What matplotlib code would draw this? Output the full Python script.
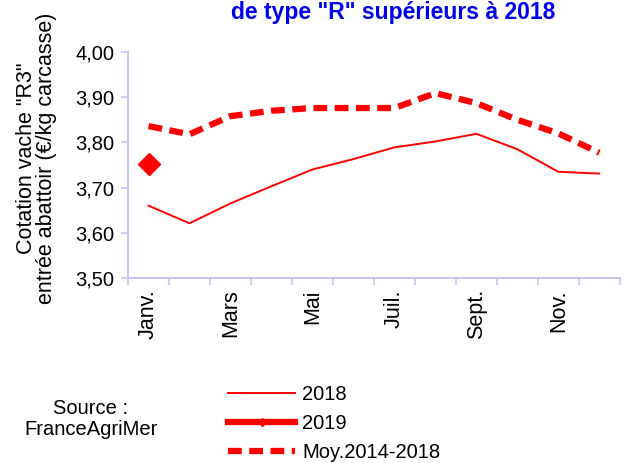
import numpy as np
import matplotlib
matplotlib.use("Agg")
from matplotlib import pyplot as plt

plt.rcParams['font.family'] = ['Liberation Sans', 'DejaVu Sans']

months = ['Janv.', 'Févr.', 'Mars', 'Avr.', 'Mai', 'Juin',
          'Juil.', 'Août', 'Sept.', 'Oct.', 'Nov.', 'Déc.']
val_2018 = [3.660, 3.621, 3.665, 3.703, 3.740, 3.763,
            3.789, 3.802, 3.819, 3.785, 3.735, 3.731]
val_2019 = [3.752]
val_moy = [3.836, 3.818, 3.858, 3.870, 3.876, 3.876,
           3.876, 3.909, 3.887, 3.850, 3.820, 3.777]

axis_col = '#c4c4f4'
fs = 14.5

fig = plt.figure(figsize=(6.26, 4.63), dpi=100)
ax = fig.add_axes([0.2045, 0.3996, 0.7855, 0.4881])

x = np.arange(len(months))
ax.plot(x, val_2018, color='red', lw=1.4, label='2018')
ax.plot(x[:len(val_2019)], val_2019, color='red', lw=4.5, marker='D',
        markersize=11, label='2019')
ax.plot(x, val_moy, color='red', lw=4.5, dashes=(2.2, 1.2), label='Moy.2014-2018')

ax.set_xlim(-0.5, 11.2)
ax.set_ylim(3.50, 4.00)
yt = np.arange(3.50, 4.001, 0.10)
ax.set_yticks(yt)
ax.set_yticklabels([('%.2f' % v).replace('.', ',') for v in yt])

# ticks at category boundaries, labels every other month
ax.set_xticks(np.arange(-0.5, 12, 1.0))
ax.set_xticklabels([])
ax.set_xticks(x[::2], minor=True)
ax.set_xticklabels(months[::2], minor=True, rotation=90, va='top')
ax.tick_params(axis='x', which='minor', length=0, pad=8, labelsize=15.5)
ax.tick_params(axis='x', which='major', length=5, width=1.2, color=axis_col, direction='out')
ax.tick_params(axis='y', length=5, width=1.2, color=axis_col, labelsize=fs, pad=5)

for s in ['top', 'right']:
    ax.spines[s].set_visible(False)
for s in ['left', 'bottom']:
    ax.spines[s].set_color(axis_col)
    ax.spines[s].set_linewidth(1.4)

ax.set_ylabel('Cotation vache "R3"\nentrée abattoir (€/kg carcasse)', fontsize=15.5,
              linespacing=0.92)
ax.yaxis.set_label_coords(-0.145, 0.53)

fig.text(0.628, 0.972, 'de type "R" supérieurs à 2018', color='#0000ee',
         fontsize=16.5, fontweight='bold', ha='center', va='center')

fig.text(0.145, 0.095, 'Source :\nFranceAgriMer', fontsize=fs, ha='center',
         va='center', linespacing=1.1)

leg = fig.legend(loc='upper left', bbox_to_anchor=(0.352, 0.186), frameon=False,
                 fontsize=fs, handlelength=3.3, handletextpad=0.35,
                 labelspacing=0.5, markerscale=0.35, borderaxespad=0)

fig.savefig('out.png', dpi=100)
